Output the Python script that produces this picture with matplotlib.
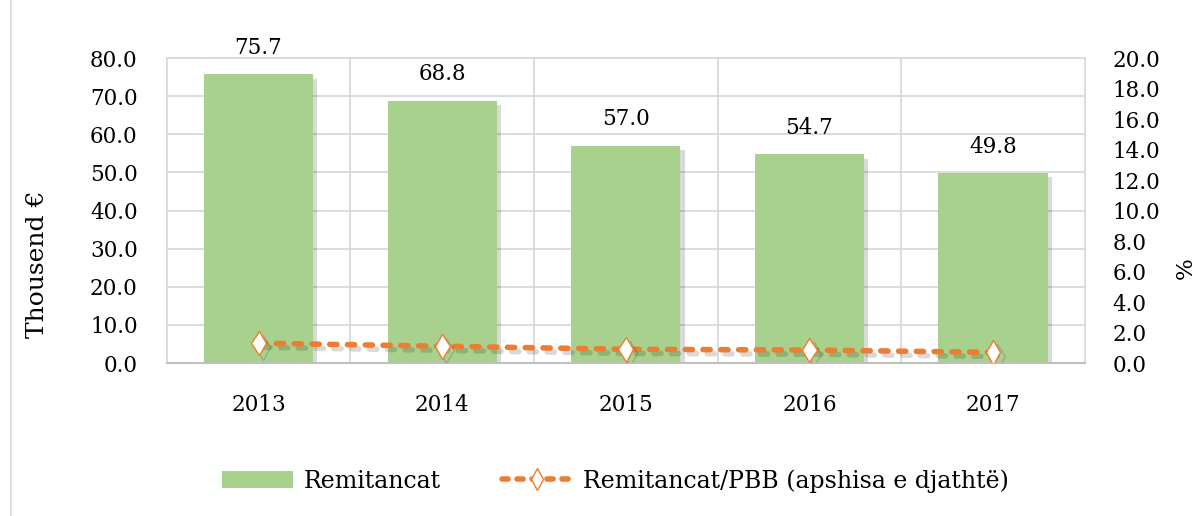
import matplotlib
matplotlib.use("Agg")
import matplotlib.pyplot as plt
import matplotlib.patheffects as pe
from matplotlib.lines import Line2D
from matplotlib.patches import Patch

years = ["2013", "2014", "2015", "2016", "2017"]
remitancat = [75.7, 68.8, 57.0, 54.7, 49.8]
ratio_pbb = [1.3, 1.1, 0.9, 0.85, 0.7]
left_ticks = [0, 10, 20, 30, 40, 50, 60, 70, 80]
right_ticks = [0, 2, 4, 6, 8, 10, 12, 14, 16, 18, 20]

plt.rcParams['font.family'] = ['DejaVu Serif']

bar_color = "#A9D18E"
line_color = "#ED7D31"
grid_color = "#D9D9D9"
fs = 15.5

fig = plt.figure(figsize=(12, 5.16), dpi=100)
ax = fig.add_axes([0.139, 0.2965, 0.765, 0.591])
ax2 = ax.twinx()

x = list(range(len(years)))
shadow = [pe.SimplePatchShadow(offset=(3, -3), shadow_rgbFace="black", alpha=0.15), pe.Normal()]
bars = ax.bar(x, remitancat, width=0.595, color=bar_color, zorder=2)
for b in bars:
    b.set_path_effects(shadow)
for xi, v in zip(x, remitancat):
    ax.annotate(f"{v:.1f}", (xi, v), xytext=(0, 11), textcoords="offset points",
                ha="center", va="bottom", fontsize=fs)

ax.set_xlim(-0.5, len(years) - 0.5)
ax.set_ylim(0, 80)
ax.set_yticks(left_ticks)
ax.set_yticklabels([f"{t:.1f}" for t in left_ticks], fontsize=fs)
ax.set_xticks(x)
ax.set_xticklabels(years, fontsize=fs)
ax.set_xticks([i + 0.5 for i in range(len(years) - 1)], minor=True)
ax.grid(axis="y", color=grid_color, linewidth=1.3, zorder=0)
ax.grid(axis="x", which="minor", color=grid_color, linewidth=1.3, zorder=0)
ax.set_axisbelow(True)
ax.tick_params(axis="both", which="both", length=0)
ax.tick_params(axis="y", pad=21)
ax.tick_params(axis="x", pad=22)
for s in ["top", "right", "left"]:
    ax.spines[s].set_color(grid_color)
    ax.spines[s].set_linewidth(1.3)
ax.spines["bottom"].set_color("#BFBFBF")
ax.spines["bottom"].set_linewidth(1.5)
fig.text(38 / 1200, 1 - 264 / 516, "Thousend €", rotation=90, ha="center", va="center", fontsize=18)

ax2.set_ylim(0, 20)
ax2.set_yticks(right_ticks)
ax2.set_yticklabels([f"{t:.1f}" for t in right_ticks], fontsize=fs)
ax2.tick_params(axis="y", length=0, pad=20)
for s in ax2.spines.values():
    s.set_visible(False)
fig.text(1186 / 1200, 1 - 268 / 516, "%", rotation=90, ha="center", va="center", fontsize=16.5)

line, = ax2.plot(x, ratio_pbb, color=line_color, linewidth=4.0, linestyle=(0, (1.3, 1.9)),
                 dash_capstyle="round", marker="d", markersize=12.5,
                 markerfacecolor="white", markeredgecolor=line_color, markeredgewidth=1.0,
                 zorder=3)
line.set_path_effects([pe.SimpleLineShadow(offset=(3, -3), shadow_color="black", alpha=0.15), pe.Normal()])

handles = [Patch(facecolor=bar_color, edgecolor="none"),
           Line2D([0], [0], color=line_color, linewidth=4.0, linestyle=(0, (1.1, 1.6)),
                  dash_capstyle="round", marker="d", markersize=11,
                  markerfacecolor="white", markeredgecolor=line_color, markeredgewidth=1.0)]
fig.legend(handles, ["Remitancat", "Remitancat/PBB (apshisa e djathtë)"],
           loc="center", bbox_to_anchor=(0.513, 0.068), ncol=2, frameon=False,
           fontsize=17, handlelength=3.0, handleheight=0.7, columnspacing=2.6, handletextpad=0.45)

fig.add_artist(Line2D([0.009, 0.009], [0, 1], transform=fig.transFigure, color=grid_color, linewidth=1.2))

fig.savefig("out.png", dpi=100)
